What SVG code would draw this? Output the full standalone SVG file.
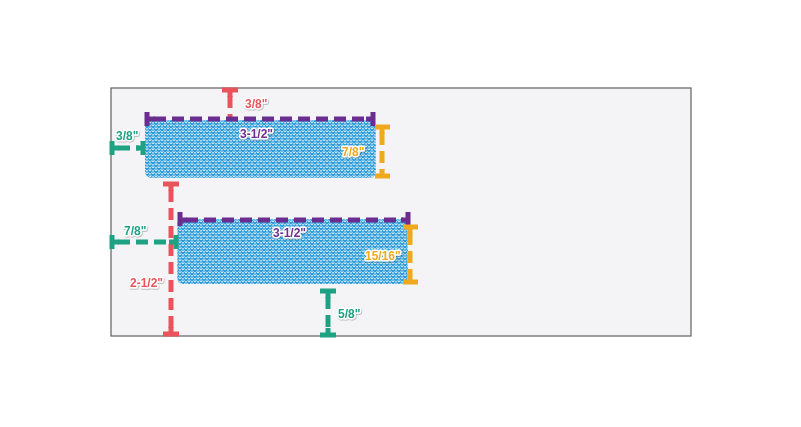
<svg xmlns="http://www.w3.org/2000/svg" width="801" height="427" viewBox="0 0 801 427">
<defs>
<pattern id="weave" width="6" height="6" patternUnits="userSpaceOnUse">
<rect width="6" height="6" fill="#2d9cd8"/>
<path d="M0 3 Q1.5 0.5 3 3 Q4.5 0.5 6 3 M3 6 Q3 4.5 3 3 M0 6 Q1.5 3.5 3 6 Q4.5 3.5 6 6 M0 0 L0 3 M6 0 L6 3" fill="none" stroke="#ffffff" stroke-width="0.8" stroke-opacity="0.8"/>
</pattern>
<filter id="sh" x="-20%" y="-30%" width="140%" height="160%">
<feDropShadow dx="0.6" dy="0.8" stdDeviation="0.6" flood-color="#000" flood-opacity="0.35"/>
</filter>
</defs>
<style>
.env{fill:#f4f4f7;stroke:#5f5f5f;stroke-width:1.2}
.win{fill:url(#weave);stroke:#e8f4fb;stroke-width:1;stroke-dasharray:1.5 1.5}
.dim{fill:none;stroke-width:5;stroke-dasharray:12 6}
.cap{fill:none;stroke-width:5}
.red{stroke:#e9545c}
.pur{stroke:#6b2d8f}
.yel{stroke:#eeaa1c}
.grn{stroke:#1ea283}
.lbl{font-family:"Liberation Sans",Arial,sans-serif;font-weight:bold;font-size:12px;stroke:#ffffff;stroke-width:3;paint-order:stroke;stroke-linejoin:round;filter:url(#sh)}
.tr{fill:#e9545c}.tp{fill:#6b2d8f}.ty{fill:#eeaa1c}.tg{fill:#1ea283}
</style>
<rect x="0" y="0" width="801" height="427" fill="#ffffff"/>
<g id="envelope"><rect class="env" x="111" y="88" width="580" height="248"/></g>
<g id="window1"><rect class="win" x="145" y="120" width="231" height="58" rx="6"/></g>
<g id="window2"><rect class="win" x="177" y="219" width="231" height="65" rx="6"/></g>
<g id="connectors">
<path class="dim red" d="M230 96 V118" stroke-dasharray="12 4"/>
<path class="cap red" d="M222 90 H238 M230 90 V97"/>
<path class="dim red" d="M171 190 V328"/>
<path class="cap red" d="M163 184 H179 M171 184 V191"/>
<path class="cap red" d="M163 334 H179 M171 334 V327"/>
<path class="dim pur" d="M154 119 H368"/>
<path class="cap pur" d="M147 112 V126 M147 119 H155 M373 112 V126 M373 119 H366"/>
<path class="dim pur" d="M186 220 H403"/>
<path class="cap pur" d="M180 212 V226 M180 220 H187 M408 212 V226 M408 220 H401"/>
<path class="dim yel" d="M382 133 V170"/>
<path class="cap yel" d="M375 127 H390 M382 127 V134 M375 176 H390 M382 176 V169"/>
<path class="dim yel" d="M410 233 V276"/>
<path class="cap yel" d="M403 227 H418 M410 227 V234 M403 282 H418 M410 282 V275"/>
<path class="dim grn" d="M118 148 H139"/>
<path class="cap grn" d="M112 141 V155 M112 148 H119 M143 141 V155 M143 148 H136"/>
<path class="dim grn" d="M118 242 H171"/>
<path class="cap grn" d="M112 235 V249 M112 242 H119 M176 235 V249 M176 242 H169"/>
<path class="dim grn" d="M328 297 V329"/>
<path class="cap grn" d="M320 291 H336 M328 291 V298 M320 335 H336 M328 335 V328"/>
</g>
<g id="labels">
<text class="lbl tr" x="245" y="108">3/8"</text>
<text class="lbl tp" x="240" y="138">3-1/2"</text>
<text class="lbl ty" x="342" y="156">7/8"</text>
<text class="lbl tg" x="116" y="140">3/8"</text>
<text class="lbl tp" x="273" y="237">3-1/2"</text>
<text class="lbl ty" x="365" y="260">15/16"</text>
<text class="lbl tg" x="124" y="235">7/8"</text>
<text class="lbl tr" x="130" y="287">2-1/2"</text>
<text class="lbl tg" x="338" y="318">5/8"</text>
</g>
</svg>
